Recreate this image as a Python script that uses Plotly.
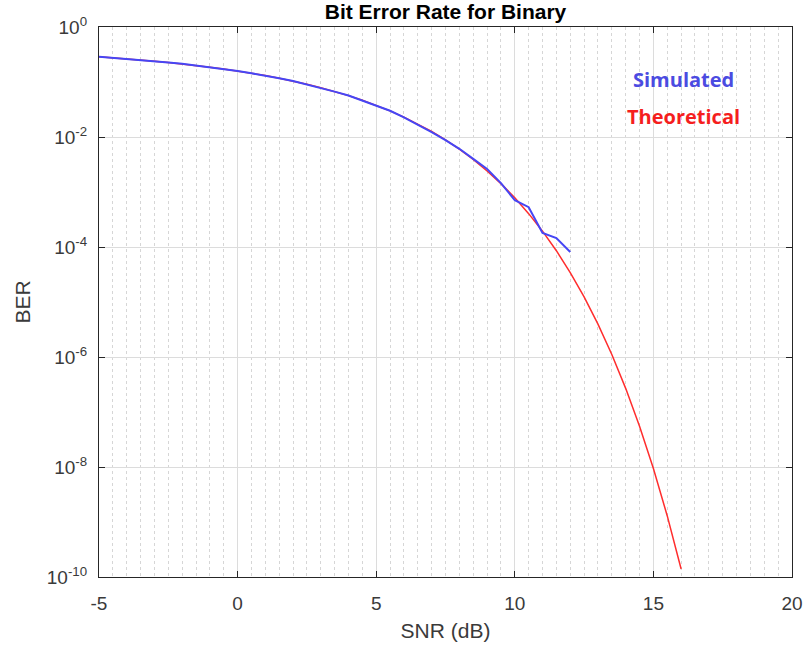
import plotly.graph_objects as go

# SNR (dB) grid for theoretical curve
snr_theory = [-5, -4.5, -4, -3.5, -3, -2.5, -2, -1.5, -1, -0.5, 0, 0.5, 1, 1.5, 2, 2.5,
              3, 3.5, 4, 4.5, 5, 5.5, 6, 6.5, 7, 7.5, 8, 8.5, 9, 9.5, 10, 10.5, 11,
              11.5, 12, 12.5, 13, 13.5, 14, 14.5, 15, 15.5, 16]
ber_theory = [0.2870, 0.2757, 0.2640, 0.2520, 0.2395, 0.2267, 0.2135, 0.2001, 0.1864,
              0.1726, 0.1587, 0.1447, 0.1309, 0.1173, 0.1040, 0.0912, 0.0789, 0.0673,
              0.0565, 0.0466, 0.0377, 0.0298, 0.0230, 0.0173, 0.01259, 0.00886, 0.00600,
              0.00390, 0.00241, 0.00142, 7.83e-4, 4.04e-4, 1.94e-4, 8.56e-5, 3.43e-5,
              1.24e-5, 3.97e-6, 1.11e-6, 2.69e-7, 5.5e-8, 9.4e-9, 1.29e-9, 1.40e-10]

snr_sim = [-5, -4.5, -4, -3.5, -3, -2.5, -2, -1.5, -1, -0.5, 0, 0.5, 1, 1.5, 2, 2.5,
           3, 3.5, 4, 4.5, 5, 5.5, 6, 6.5, 7, 7.5, 8, 8.5, 9, 9.5, 10, 10.5, 11, 11.5, 12]
ber_sim = [0.2875, 0.2750, 0.2645, 0.2515, 0.2400, 0.2262, 0.2140, 0.1995, 0.1870,
           0.1720, 0.1590, 0.1440, 0.1315, 0.1165, 0.1045, 0.0905, 0.0792, 0.0668,
           0.0568, 0.0462, 0.0375, 0.0300, 0.0228, 0.0170, 0.01230, 0.00880, 0.00610,
           0.00400, 0.00262, 0.00145, 7.1e-4, 5.3e-4, 1.8e-4, 1.45e-4, 8.1e-5]

x_ticks = [-5, 0, 5, 10, 15, 20]
x_ticktext = ["-5", "0", "5", "10", "15", "20"]
y_tickvals = [1, 1e-2, 1e-4, 1e-6, 1e-8, 1e-10]
y_ticktext = ["10<sup>0</sup>", "10<sup>-2</sup>", "10<sup>-4</sup>", "10<sup>-6</sup>",
              "10<sup>-8</sup>", "10<sup>-10</sup>"]

axis_color = "#262626"
label_color = "#3a3a3a"
font_fam = "Liberation Sans, Arial, sans-serif"

fig = go.Figure()
fig.add_trace(go.Scatter(x=snr_theory, y=ber_theory, mode="lines",
                         line=dict(color="rgb(255,45,45)", width=1.5),
                         name="Theoretical", showlegend=False))
fig.add_trace(go.Scatter(x=snr_sim, y=ber_sim, mode="lines",
                         line=dict(color="rgb(70,70,245)", width=2),
                         name="Simulated", showlegend=False))

fig.update_layout(
    width=806, height=654,
    margin=dict(l=99, r=14, t=27, b=77, autoexpand=False),
    paper_bgcolor="white", plot_bgcolor="white",
    font=dict(family=font_fam, color=axis_color, size=18),
    title=dict(text="<b>Bit Error Rate for Binary</b>", x=0.5, xref="paper",
               xanchor="center", y=1 - 12 / 654, yref="container", yanchor="middle",
               font=dict(size=21, color="black", family=font_fam)),
    showlegend=False,
)

fig.update_xaxes(
    range=[-5, 20], tickvals=x_ticks, ticktext=x_ticktext, ticks="inside", ticklen=6,
    tickcolor=axis_color, showline=True, linecolor=axis_color, linewidth=1.2,
    mirror="ticks", showgrid=True, gridcolor="#dcdcdc", gridwidth=1,
    zeroline=False, ticklabelstandoff=9, automargin=False,
    tickfont=dict(size=19, color=label_color),
    title=dict(text="SNR (dB)", font=dict(size=21, color=label_color), standoff=10),
    minor=dict(dtick=0.5, showgrid=True, griddash="dot", gridcolor="#d6d6d6",
               gridwidth=1, ticks=""),
)
fig.update_yaxes(
    type="log", range=[-10, 0], tickvals=y_tickvals, ticktext=y_ticktext,
    ticks="inside", ticklen=6, tickcolor=axis_color, showline=True,
    linecolor=axis_color, linewidth=1.2, mirror="ticks", showgrid=True,
    gridcolor="#dcdcdc", gridwidth=1, zeroline=False, ticklabelstandoff=7,
    automargin=False,
    tickfont=dict(size=19, color=label_color),
    title=dict(text="BER", font=dict(size=21, color=label_color), standoff=10),
)

fig.add_annotation(x=(683 - 99) / (792 - 99), y=1 - (80 - 27) / (577 - 27),
                   xref="paper", yref="paper", text="<b>Simulated</b>", showarrow=False,
                   xanchor="center", yanchor="middle",
                   font=dict(family="Open Sans, Lato, sans-serif", size=20,
                             color="rgb(75,75,225)"))
fig.add_annotation(x=(683 - 99) / (792 - 99), y=1 - (116 - 27) / (577 - 27),
                   xref="paper", yref="paper", text="<b>Theoretical</b>", showarrow=False,
                   xanchor="center", yanchor="middle",
                   font=dict(family="Open Sans, Lato, sans-serif", size=20,
                             color="rgb(245,30,30)"))

fig.write_html("out.html")
